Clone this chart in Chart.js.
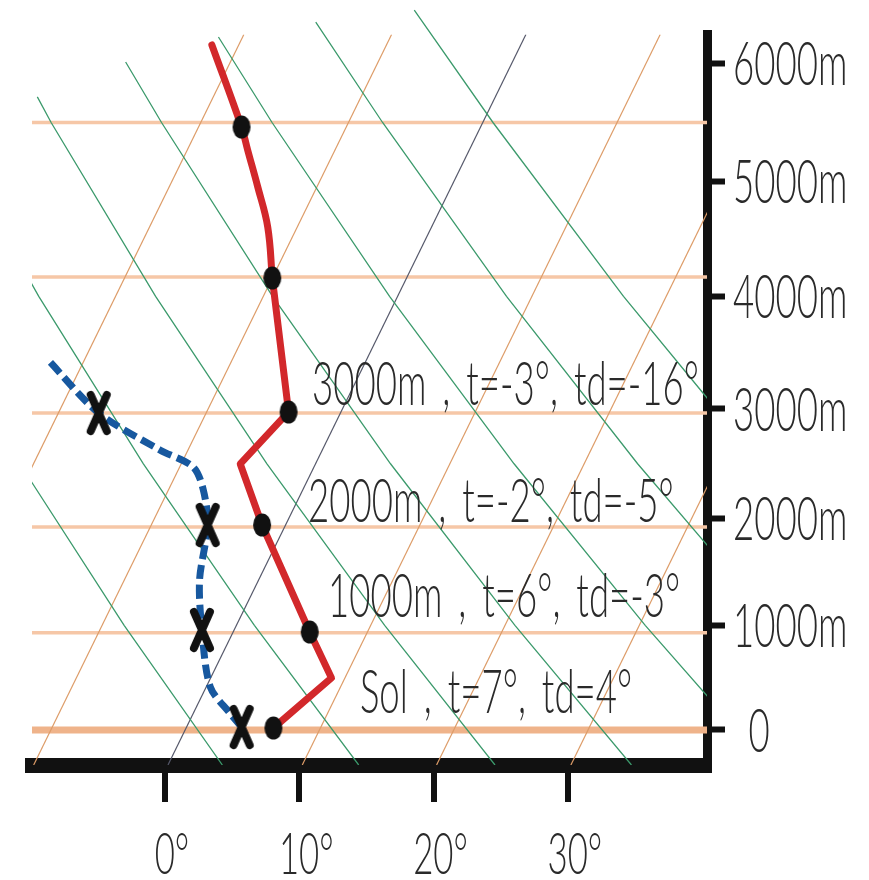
<!DOCTYPE html>
<html>
<head>
<meta charset="utf-8">
<title>Sondage</title>
<script src="https://cdn.jsdelivr.net/npm/chart.js@4.4.1/dist/chart.umd.min.js"></script>
<style>
  html, body { margin: 0; padding: 0; background: #fff; }
  #chart { display: block; }
</style>
</head>
<body>
<canvas id="chart" width="869" height="880"></canvas>
<script>
// observed levels (height m, temperature / dew point in °C)
const tempObsH = [19, 937, 1938, 2970, 4161, 5462];
const tempObsT = [6.5, 5.7, -1.75, -3.9, -10.0, -17.8];
const dewObsH = [29, 956, 1938, 2961];
const dewObsT = [4.1, -2.4, -5.8, -18.0];

// traced curves, with the kinks between the levels
const tempPathH = [19, 500, 937, 1938, 2498, 2970, 4161, 4605, 4950, 5266, 5462, 6151];
const tempPathT = [6.5, 9.0, 5.7, -1.75, -5.6, -3.9, -10.0, -12.2, -14.4, -16.5, -17.8, -23.0];
const dewPathH = [29, 164, 414, 956, 1427, 1938, 2260, 2471, 2626, 2961, 3436];
const dewPathT = [4.1, 2.7, 0.3, -2.4, -4.4, -5.8, -7.4, -9.0, -12.1, -18.0, -23.7];

// background of the diagram
const levelHeights = [0, 930, 1920, 2960, 4170, 5500];
const isotherms = [-21, -10, 0, 10, 20, 30];
const adiabatHeights = [-340, 1000, 2500, 4000, 5500];
const adiabatTemps = [
  [4.05, -8.36, -22.02, -35.43, -48.59],
  [14.20, 1.34, -12.82, -26.72, -40.37],
  [24.35, 11.04, -3.62, -18.02, -32.14],
  [34.51, 20.74, 5.58, -9.31, -23.92],
  [44.66, 30.44, 14.78, -0.60, -15.69],
  [54.81, 40.14, 23.98, 8.11, -7.46],
  [64.97, 49.84, 33.18, 16.82, 0.76]
];
// where each adiabat starts at the top of the drawing
const adiabatTopH = [null, null, 5716, 6009, 6217, 6341, 6440];
const adiabatTopT = [null, null, -34.1, -28.8, -22.8, -16.1, -9.2];

// axes
const xTicks = [0, 10, 20, 30];
const xTickLabels = ['0°', '10°', '20°', '30°'];
const yTicks = [0, 1000, 2000, 3000, 4000, 5000, 6000];
const yTickLabels = ['0', '1000m', '2000m', '3000m', '4000m', '5000m', '6000m'];

const notes = ['Sol , t=7°, td=4°', '1000m , t=6°, td=-3°', '2000m , t=-2°, td=-5°', '3000m , t=-3°, td=-16°'];

const X_MIN = -9.9, X_MAX = 40.36;
const Y_MIN = -340, Y_MAX = 6238;

// log-pressure height axis (standard atmosphere) and skewed temperature
const LAPSE = 2.25577e-5;
const SKEW = 167.3;
const BASE_H = -400;
function warp(h) { return -Math.log(1 - LAPSE * h); }
function skewX(t, h) { return t + SKEW * (warp(h) - warp(BASE_H)); }

class PressureHeightScale extends Chart.LinearScale {
  getPixelForValue(value) {
    const w0 = warp(this.min), w1 = warp(this.max);
    return this.getPixelForDecimal((warp(value) - w0) / (w1 - w0));
  }
  getValueForPixel(pixel) {
    const w0 = warp(this.min), w1 = warp(this.max);
    const w = w0 + this.getDecimalForPixel(pixel) * (w1 - w0);
    return (1 - Math.exp(-w)) / LAPSE;
  }
}
PressureHeightScale.id = 'pressureHeight';
PressureHeightScale.defaults = Chart.LinearScale.defaults;
Chart.register(PressureHeightScale);

function pts(hs, ts) {
  return hs.map((h, i) => ({ x: skewX(ts[i], h), y: h }));
}

function makeDot() {
  const c = document.createElement('canvas');
  c.width = 20; c.height = 26;
  const g = c.getContext('2d');
  g.fillStyle = '#111';
  g.beginPath();
  g.ellipse(10, 13, 9, 11.5, 0, 0, Math.PI * 2);
  g.fill();
  return c;
}

function makeCross() {
  const c = document.createElement('canvas');
  c.width = 30; c.height = 48;
  const g = c.getContext('2d');
  g.strokeStyle = '#111';
  g.lineWidth = 8;
  g.lineCap = 'round';
  g.beginPath();
  g.moveTo(7, 6); g.lineTo(23, 42);
  g.moveTo(23, 6); g.lineTo(7, 42);
  g.stroke();
  return c;
}

const datasets = [];

datasets.push({
  data: pts(tempObsH, tempObsT), showLine: false,
  pointStyle: makeDot(), pointRadius: 10, order: 0
});
datasets.push({
  data: pts(dewObsH, dewObsT), showLine: false,
  pointStyle: makeCross(), pointRadius: 12, order: 0
});
// lower part of the temperature curve is angular, upper part is smooth
const tempPts = pts(tempPathH, tempPathT);
datasets.push({
  data: tempPts.slice(0, 7), showLine: true, pointRadius: 0,
  borderColor: '#d2282b', borderWidth: 7, borderJoinStyle: 'round', borderCapStyle: 'round', tension: 0, order: 1
});
datasets.push({
  data: tempPts.slice(6), showLine: true, pointRadius: 0,
  borderColor: '#d2282b', borderWidth: 7, borderCapStyle: 'round', tension: 0.4, order: 1
});
datasets.push({
  data: pts(dewPathH, dewPathT), showLine: true, pointRadius: 0,
  borderColor: '#17589f', borderWidth: 7, borderDash: [14, 6], tension: 0.3, order: 1
});

adiabatTemps.forEach((temps, k) => {
  const d = pts(adiabatHeights, temps);
  if (adiabatTopH[k] !== null) d.push({ x: skewX(adiabatTopT[k], adiabatTopH[k]), y: adiabatTopH[k] });
  datasets.push({
    data: d, showLine: true, pointRadius: 0, borderColor: '#3c9a6c', borderWidth: 1.3,
    clip: { left: 0, right: 0, bottom: 0, top: 26 }, order: 3
  });
});

isotherms.forEach(t => {
  datasets.push({
    data: [{ x: skewX(t, Y_MIN), y: Y_MIN }, { x: skewX(t, Y_MAX), y: Y_MAX }],
    showLine: true, pointRadius: 0,
    borderColor: t === 0 ? '#55586a' : '#dd9c68', borderWidth: 1.2, clip: 0, order: 4
  });
});

levelHeights.forEach(h => {
  datasets.push({
    data: [{ x: X_MIN, y: h }, { x: X_MAX, y: h }],
    showLine: true, pointRadius: 0,
    borderColor: h === 0 ? '#efb38a' : '#f6c7a7', borderWidth: h === 0 ? 7 : 3.5, clip: 0, order: 5
  });
});

const SX = 0.6;
const FONT = 'Lato, Roboto, sans-serif';
function condensed(ctx, text, x, y) {
  ctx.save();
  ctx.translate(x, y);
  ctx.scale(SX, 1);
  ctx.fillText(text, 0, 0);
  ctx.restore();
}

const textPlugin = {
  id: 'skewText',
  afterDraw(chart) {
    const ctx = chart.ctx;
    const xs = chart.scales.x, ys = chart.scales.y;
    ctx.save();
    ctx.fillStyle = '#2a2a2a';
    ctx.textBaseline = 'alphabetic';

    ctx.font = '300 58px ' + FONT;
    ctx.textAlign = 'center';
    xTicks.forEach((v, i) => condensed(ctx, xTickLabels[i], xs.getPixelForValue(v) + 7, xs.bottom + 72));

    ctx.font = '300 61px ' + FONT;
    yTicks.forEach((v, i) => {
      const py = ys.getPixelForValue(v) + 22;
      if (yTickLabels[i] === '0') {
        ctx.textAlign = 'center';
        condensed(ctx, yTickLabels[i], ys.right + 34, py);
      } else {
        ctx.textAlign = 'left';
        condensed(ctx, yTickLabels[i], ys.right + 8, py);
      }
    });

    // notes sit just above their level line
    const anchor = [[14.52, 0, -17], [12.14, 930, -16], [10.65, 1920, -5], [10.95, 2960, -8]];
    ctx.textAlign = 'left';
    ctx.wordSpacing = '10px';
    notes.forEach((txt, i) => {
      const a = anchor[i];
      condensed(ctx, txt, xs.getPixelForValue(a[0]), ys.getPixelForValue(a[1]) + a[2]);
    });
    ctx.restore();
  }
};

new Chart(document.getElementById('chart'), {
  type: 'scatter',
  data: { datasets },
  options: {
    responsive: false,
    animation: false,
    events: [],
    layout: { padding: { left: 32, top: 34.5, right: 144, bottom: 78 }, autoPadding: false },
    plugins: { legend: { display: false }, tooltip: { enabled: false } },
    scales: {
      x: {
        type: 'linear', position: 'bottom', min: X_MIN, max: X_MAX,
        afterBuildTicks: s => { s.ticks = xTicks.map(v => ({ value: v })); },
        ticks: { display: false },
        grid: { drawOnChartArea: false, lineWidth: 8, tickLength: 37, tickWidth: 6, tickColor: '#111' },
        border: { color: '#111', width: 15 }
      },
      y: {
        type: 'pressureHeight', position: 'right', min: Y_MIN, max: Y_MAX,
        afterBuildTicks: s => { s.ticks = yTicks.map(v => ({ value: v })); },
        ticks: { display: false },
        grid: { drawOnChartArea: false, lineWidth: 15, tickLength: 18, tickWidth: 6, tickColor: '#111' },
        border: { color: '#111', width: 9 }
      }
    }
  },
  plugins: [textPlugin]
});
</script>
</body>
</html>
